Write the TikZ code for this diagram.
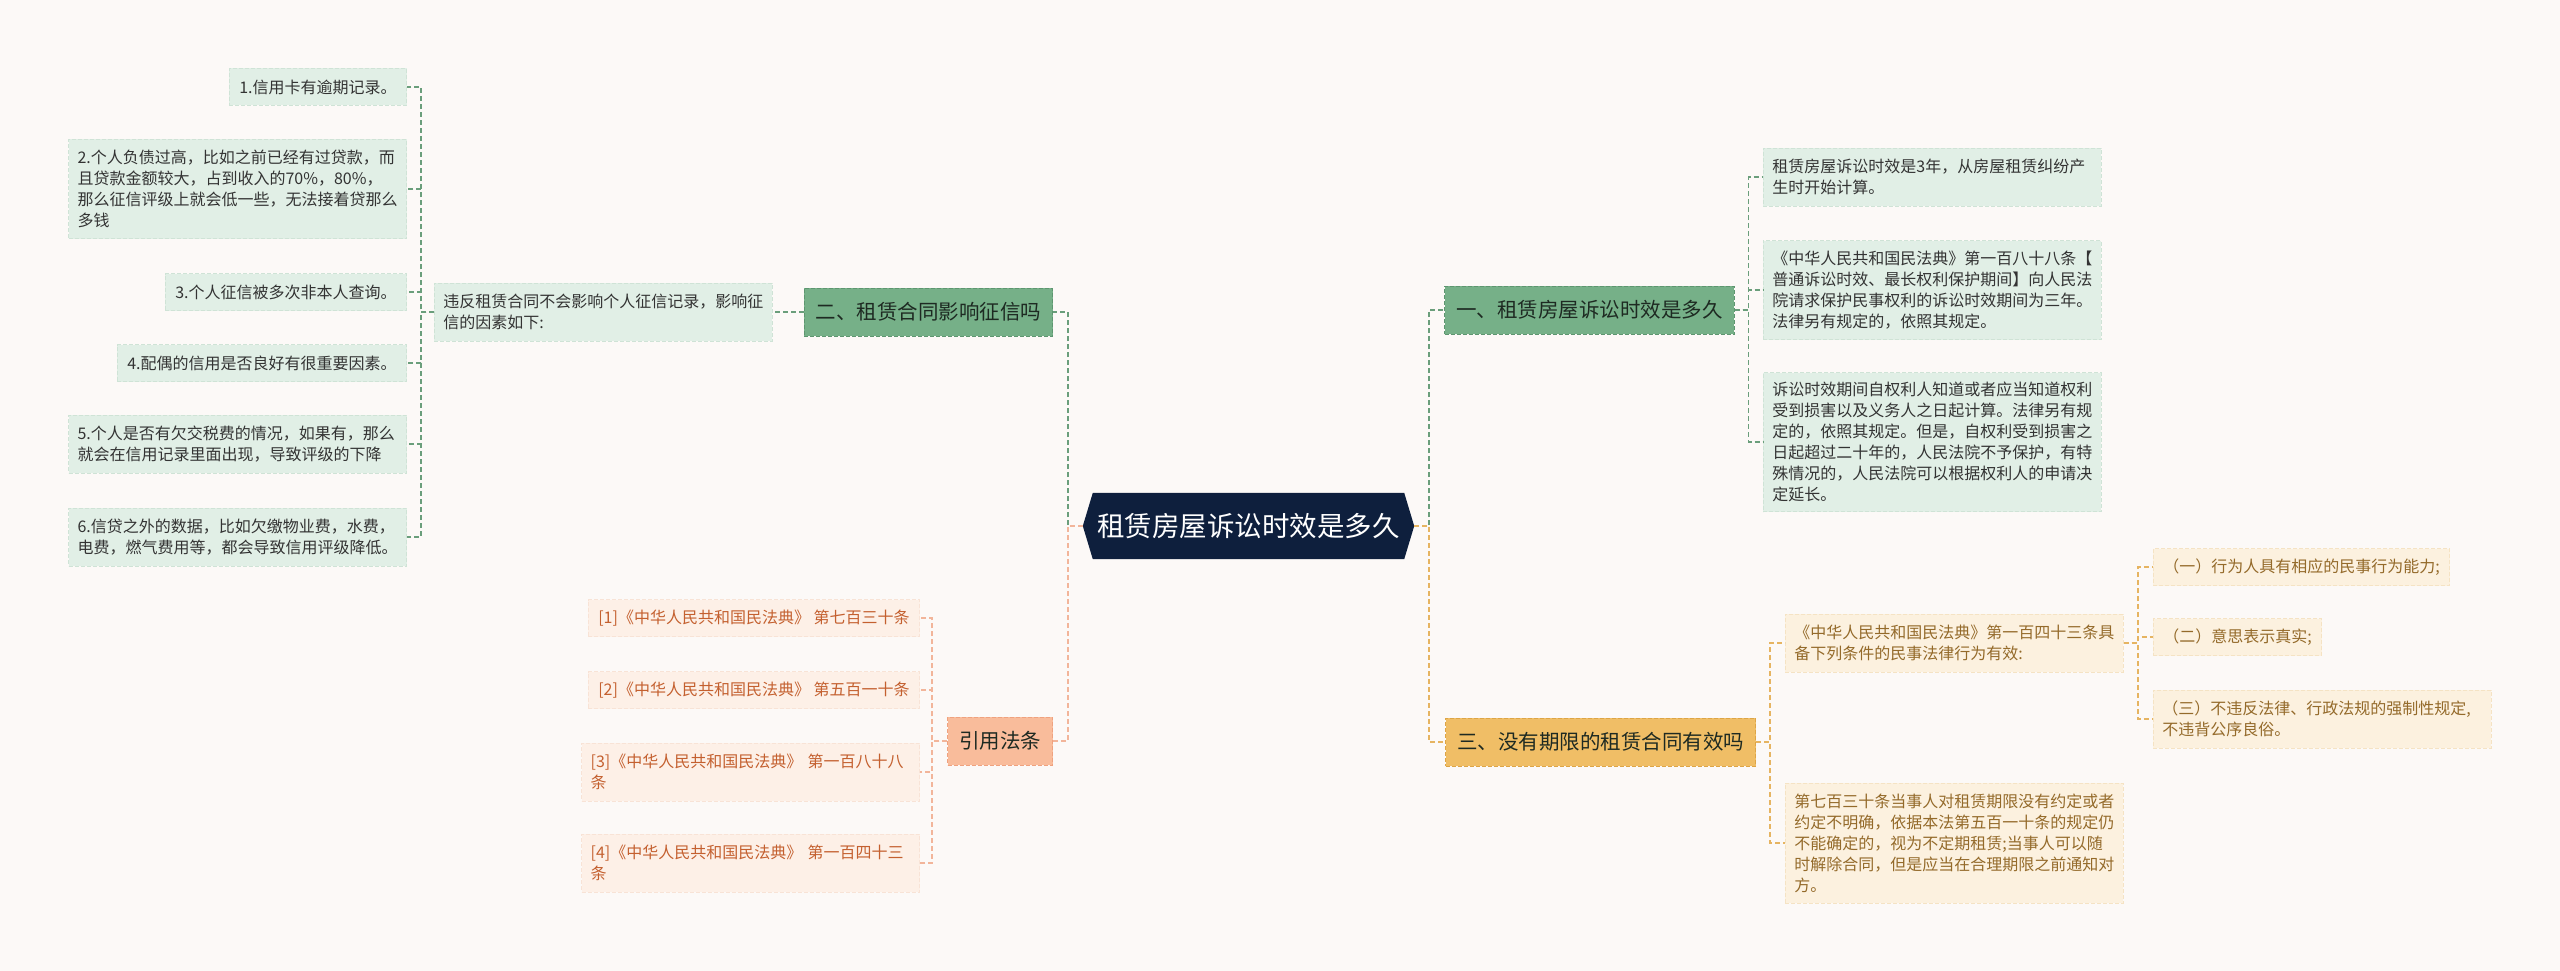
\documentclass[tikz,border=0pt]{standalone}
\usepackage{fontspec}
\setmainfont{Noto Sans CJK SC}
\pgfdeclarelayer{back}
\pgfdeclarelayer{hexl}
\pgfsetlayers{back,hexl,main}
\definecolor{bgc}{HTML}{FCF9F7}
\definecolor{navy}{HTML}{0E1F3D}
\definecolor{gfill}{HTML}{76B088}
\definecolor{gborder}{HTML}{5E9670}
\definecolor{gleaffill}{HTML}{E1EFE6}
\definecolor{gleafborder}{HTML}{CFE3D6}
\definecolor{gline}{HTML}{6A9E7B}
\definecolor{gtext}{HTML}{333333}
\definecolor{sfill}{HTML}{F9BC9B}
\definecolor{sborder}{HTML}{EFA27F}
\definecolor{sleaffill}{HTML}{FDF0E7}
\definecolor{sleafborder}{HTML}{F8E3D6}
\definecolor{sline}{HTML}{F2B59A}
\definecolor{stext}{HTML}{C4602F}
\definecolor{ofill}{HTML}{F0BE66}
\definecolor{oborder}{HTML}{DDA546}
\definecolor{oleaffill}{HTML}{FCF1DF}
\definecolor{oleafborder}{HTML}{F5E3C4}
\definecolor{oline}{HTML}{E6B461}
\definecolor{otext}{HTML}{946A2A}
\definecolor{maintext}{HTML}{1E2A22}
\tikzset{
  conn/.style={line width=1.5pt, dash pattern=on 5pt off 3pt},
  gconn/.style={conn, draw=gline},
  sconn/.style={conn, draw=sline},
  oconn/.style={conn, draw=oline},
  mainbox/.style={font=\fontsize{20.5pt}{24pt}\selectfont, inner xsep=11.5pt, inner ysep=0pt,
    minimum height=48pt, line width=1pt, dash pattern=on 4pt off 2pt, text=maintext},
  gmain/.style={mainbox, fill=gfill, draw=gborder},
  smain/.style={mainbox, fill=sfill, draw=sborder},
  omain/.style={mainbox, fill=ofill, draw=oborder},
  leaf/.style={font=\fontsize{16pt}{21pt}\selectfont, inner xsep=10pt, inner ysep=2pt,
    align=left, line width=0.8pt, dash pattern=on 4pt off 2pt},
  wide/.style={text width=320pt, inner xsep=9pt},
  gleaf/.style={leaf, fill=gleaffill, draw=gleafborder, text=gtext},
  sleaf/.style={leaf, fill=sleaffill, draw=sleafborder, text=stext},
  oleaf/.style={leaf, fill=oleaffill, draw=oleafborder, text=otext},
  h1/.style={minimum height=37pt},
  h2/.style={minimum height=58pt},
  h4/.style={minimum height=99pt},
  h5/.style={minimum height=120pt},
  h6/.style={minimum height=139pt},
}
\begin{document}
\begin{tikzpicture}[x=1pt,y=-1pt]
\useasboundingbox (0,0) rectangle (2560,971);
\begin{pgfonlayer}{back}
\fill[bgc] (0,0) rectangle (2560,971);
\end{pgfonlayer}

% center
\node[minimum width=331pt, minimum height=66pt, inner sep=0pt, text=white,
  font=\fontsize{27.5pt}{30pt}\selectfont] (c) at (1248.5,526) {租赁房屋诉讼时效是多久};
\begin{pgfonlayer}{hexl}
\fill[navy] (c.west) -- ([xshift=10pt]c.north west) -- ([xshift=-10pt]c.north east) -- (c.east)
  -- ([xshift=-10pt]c.south east) -- ([xshift=10pt]c.south west) -- cycle;
\end{pgfonlayer}

% main branches
\node[gmain, anchor=east] (two) at (1053,312) {二、租赁合同影响征信吗};
\node[smain, anchor=east] (cite) at (1053,741) {引用法条};
\node[gmain, anchor=west] (one) at (1444,310) {一、租赁房屋诉讼时效是多久};
\node[omain, anchor=west] (three) at (1445,742) {三、没有期限的租赁合同有效吗};

% left green
\node[gleaf, wide, h2, anchor=west] (p) at (434,312) {违反租赁合同不会影响个人征信记录，影响征\\信的因素如下:};
\node[gleaf, h1, anchor=east] (l1) at (407,87) {1.信用卡有逾期记录。};
\node[gleaf, wide, h4, anchor=east] (l2) at (407,189) {2.个人负债过高，比如之前已经有过贷款，而\\且贷款金额较大，占到收入的70\%，80\%，\\那么征信评级上就会低一些，无法接着贷那么\\多钱};
\node[gleaf, h1, anchor=east] (l3) at (407,292) {3.个人征信被多次非本人查询。};
\node[gleaf, h1, anchor=east] (l4) at (407,363) {4.配偶的信用是否良好有很重要因素。};
\node[gleaf, wide, h2, anchor=east] (l5) at (407,444) {5.个人是否有欠交税费的情况，如果有，那么\\就会在信用记录里面出现，导致评级的下降};
\node[gleaf, wide, h2, anchor=east] (l6) at (407,537) {6.信贷之外的数据，比如欠缴物业费，水费，\\电费，燃气费用等，都会导致信用评级降低。};

% right green
\node[gleaf, wide, h2, anchor=west] (r1) at (1763,177) {租赁房屋诉讼时效是3年，从房屋租赁纠纷产\\生时开始计算。};
\node[gleaf, wide, h4, anchor=west] (r2) at (1763,290) {《中华人民共和国民法典》第一百八十八条【\\普通诉讼时效、最长权利保护期间】向人民法\\院请求保护民事权利的诉讼时效期间为三年。\\法律另有规定的，依照其规定。};
\node[gleaf, wide, h6, anchor=west] (r3) at (1763,442) {诉讼时效期间自权利人知道或者应当知道权利\\受到损害以及义务人之日起计算。法律另有规\\定的，依照其规定。但是，自权利受到损害之\\日起超过二十年的，人民法院不予保护，有特\\殊情况的，人民法院可以根据权利人的申请决\\定延长。};

% salmon
\node[sleaf, h1, anchor=east] (c1) at (920,618) {[1]《中华人民共和国民法典》 第七百三十条};
\node[sleaf, h1, anchor=east] (c2) at (920,690) {[2]《中华人民共和国民法典》 第五百一十条};
\node[sleaf, wide, h2, anchor=east] (c3) at (920,772) {[3]《中华人民共和国民法典》 第一百八十八\\条};
\node[sleaf, wide, h2, anchor=east] (c4) at (920,863) {[4]《中华人民共和国民法典》 第一百四十三\\条};

% orange
\node[oleaf, wide, h2, anchor=west] (o1) at (1785,643) {《中华人民共和国民法典》第一百四十三条具\\备下列条件的民事法律行为有效:};
\node[oleaf, wide, h5, anchor=west] (o2) at (1785,843) {第七百三十条当事人对租赁期限没有约定或者\\约定不明确，依据本法第五百一十条的规定仍\\不能确定的，视为不定期租赁;当事人可以随\\时解除合同，但是应当在合理期限之前通知对\\方。};
\node[oleaf, h1, anchor=west] (o1a) at (2153,567) {（一）行为人具有相应的民事行为能力;};
\node[oleaf, h1, anchor=west] (o1b) at (2153,637) {（二）意思表示真实;};
\node[oleaf, wide, h2, anchor=west] (o1c) at (2153,719) {（三）不违反法律、行政法规的强制性规定,\\不违背公序良俗。};

% connectors
\draw[gconn] (c.west) -- ++(-15,0) |- (two.east);
\draw[sconn] (c.west) -- ++(-15,0) |- (cite.east);
\draw[gconn] (c.east) -- ++(15,0) |- (one.west);
\draw[oconn] (c.east) -- ++(15,0) |- (three.west);

\draw[gconn] (two.west) -- (p.east);
\foreach \n in {l1,l2,l3,l4,l5,l6}
  \draw[gconn] (p.west) -- ++(-13,0) |- (\n.east);
\foreach \n in {r1,r2,r3}
  \draw[gconn] (one.east) -- ++(14,0) |- (\n.west);
\foreach \n in {c1,c2,c3,c4}
  \draw[sconn] (cite.west) -- ++(-15,0) |- (\n.east);
\foreach \n in {o1,o2}
  \draw[oconn] (three.east) -- ++(14,0) |- (\n.west);
\foreach \n in {o1a,o1b,o1c}
  \draw[oconn] (o1.east) -- ++(14,0) |- (\n.west);
\end{tikzpicture}
\end{document}
